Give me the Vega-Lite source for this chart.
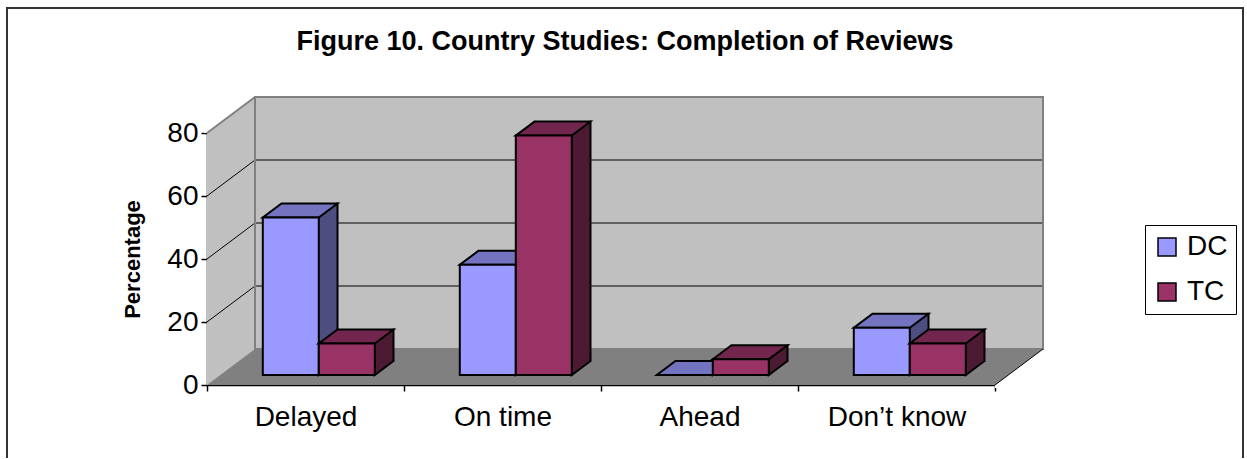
{
  "$schema": "https://vega.github.io/schema/vega-lite/v6.json",
  "width": 1236,
  "height": 450,
  "autosize": {"type": "none"},
  "padding": {"left": 7, "top": 8, "right": 4, "bottom": 1},
  "background": "white",
  "title": {
    "text": "Figure 10. Country Studies:  Completion of Reviews",
    "font": "Liberation Sans",
    "fontSize": 27,
    "fontWeight": "bold",
    "color": "black",
    "anchor": "middle",
    "frame": "group",
    "baseline": "alphabetic",
    "offset": -69
  },
  "config": {
    "font": "Liberation Sans",
    "view": {"stroke": "#333333", "strokeWidth": 2, "strokeDash": [1686, 1236, 450]}
  },
  "resolve": {"scale": {"x": "independent"}},
  "layer": [
    {
      "data": {"values": [{}]},
      "layer": [
        {
          "mark": {"type": "rect", "fill": "#C0C0C0", "x2Offset": 48, "yOffset": -36},
          "encoding": {
            "x": {"datum": 0, "type": "quantitative", "scale": {"domain": [0, 4], "range": [200, 988], "nice": false, "zero": false}, "axis": null},
            "x2": {"datum": 4},
            "y": {"datum": 80, "type": "quantitative", "scale": {"domain": [0, 80], "range": [377, 125], "nice": false}},
            "y2": {"datum": 0}
          }
        },
        {
          "mark": {"type": "rect", "fill": "#808080", "x2Offset": 48, "yOffset": -36},
          "encoding": {
            "x": {"datum": 0, "type": "quantitative", "axis": null},
            "x2": {"datum": 4},
            "y": {"datum": 0, "type": "quantitative"},
            "y2": {"datum": 0}
          }
        },
        {
          "mark": {"type": "point", "shape": "M0,0L0,-36L48,-36Z", "size": 4, "filled": true, "fill": "#C0C0C0", "opacity": 1, "strokeWidth": 0},
          "encoding": {
            "x": {"datum": 0, "type": "quantitative", "axis": null},
            "y": {"datum": 0, "type": "quantitative"}
          }
        },
        {
          "mark": {"type": "point", "shape": "M0,0L-3,0L-3,-39L48,-39L48,-36Z", "size": 4, "filled": true, "fill": "white", "opacity": 1, "strokeWidth": 0},
          "encoding": {
            "x": {"datum": 0, "type": "quantitative", "axis": null},
            "y": {"datum": 80, "type": "quantitative"}
          }
        },
        {
          "mark": {"type": "point", "shape": "M0,0L48,-36L51,-36L51,3L0,3Z", "size": 4, "filled": true, "fill": "white", "opacity": 1, "strokeWidth": 0},
          "encoding": {
            "x": {"datum": 4, "type": "quantitative", "axis": null},
            "y": {"datum": 0, "type": "quantitative"}
          }
        },
        {
          "data": {"values": [{"level": 20}, {"level": 40}, {"level": 60}]},
          "layer": [
            {
              "mark": {"type": "rule", "stroke": "black", "strokeWidth": 1, "xOffset": 48, "x2Offset": 48, "yOffset": -36},
              "encoding": {
                "x": {"datum": 0, "type": "quantitative", "axis": null},
                "x2": {"datum": 4},
                "y": {"field": "level", "type": "quantitative"}
              }
            },
            {
              "mark": {"type": "rule", "stroke": "black", "strokeWidth": 1, "x2Offset": 48, "y2Offset": -36},
              "encoding": {
                "x": {"datum": 0, "type": "quantitative", "axis": null},
                "x2": {"datum": 0},
                "y": {"field": "level", "type": "quantitative"},
                "y2": {"field": "level"}
              }
            }
          ]
        },
        {
          "mark": {"type": "rect", "fillOpacity": 0, "stroke": "#808080", "strokeWidth": 2, "xOffset": 48, "x2Offset": 48, "yOffset": -36, "y2Offset": -36},
          "encoding": {
            "x": {"datum": 0, "type": "quantitative", "axis": null},
            "x2": {"datum": 4},
            "y": {"datum": 80, "type": "quantitative"},
            "y2": {"datum": 0}
          }
        },
        {
          "mark": {"type": "rule", "stroke": "#808080", "strokeWidth": 2, "x2Offset": 48, "y2Offset": -36},
          "encoding": {
            "x": {"datum": 0, "type": "quantitative", "axis": null},
            "x2": {"datum": 0},
            "y": {"datum": 80, "type": "quantitative"},
            "y2": {"datum": 80}
          }
        },
        {
          "mark": {"type": "rule", "stroke": "black", "strokeWidth": 1, "x2Offset": 48, "y2Offset": -36},
          "encoding": {
            "x": {"datum": 4, "type": "quantitative", "axis": null},
            "x2": {"datum": 4},
            "y": {"datum": 0, "type": "quantitative"},
            "y2": {"datum": 0}
          }
        }
      ]
    },
    {
      "data": {
        "values": [
          {"status": "Delayed", "series": "DC", "pct": 50},
          {"status": "Delayed", "series": "TC", "pct": 10},
          {"status": "On time", "series": "DC", "pct": 35},
          {"status": "On time", "series": "TC", "pct": 76},
          {"status": "Ahead", "series": "DC", "pct": 0},
          {"status": "Ahead", "series": "TC", "pct": 5},
          {"status": "Don’t know", "series": "DC", "pct": 15},
          {"status": "Don’t know", "series": "TC", "pct": 10}
        ]
      },
      "layer": [
        {
          "transform": [{"filter": "datum.series === 'DC'"}],
          "layer": [
            {
              "mark": {"type": "bar", "width": 18.7, "fill": "#4D4D80", "strokeWidth": 0, "xOffset": 22.65, "yOffset": -24, "y2Offset": -24},
              "encoding": {
                "x": {
                  "field": "status", "type": "nominal", "sort": null, "title": null,
                  "scale": {"domain": ["Delayed", "On time", "Ahead", "Don’t know"], "range": [200, 988], "paddingInner": 0, "paddingOuter": 0},
                  "axis": {
                    "offset": -73, "tickBand": "extent", "domainColor": "black", "domainWidth": 1.5,
                    "tickColor": "black", "tickSize": 6, "tickWidth": 1.5,
                    "labelFont": "Liberation Sans", "labelFontSize": 28, "labelColor": "black",
                    "labelPadding": 12, "labelAngle": 0, "title": null, "grid": false
                  }
                },
                "y": {
                  "field": "pct", "type": "quantitative", "title": "Percentage",
                  "scale": {"domain": [0, 80], "range": [377, 125], "nice": false},
                  "axis": {
                    "offset": -200, "values": [0, 20, 40, 60, 80], "domainColor": "black", "domainWidth": 1.5,
                    "tickColor": "black", "tickSize": 6, "tickWidth": 1.5,
                    "labelFont": "Liberation Sans", "labelFontSize": 28, "labelColor": "black", "labelPadding": 3,
                    "grid": false, "title": "Percentage", "titleFont": "Liberation Sans", "titleFontSize": 22,
                    "titleFontWeight": "bold", "titleColor": "black", "titlePadding": 22
                  }
                },
                "y2": {"datum": 0}
              }
            },
            {
              "mark": {"type": "point", "shape": "M0,-14L0,0L18.7,-14", "size": 4, "filled": true, "fill": "#4D4D80", "stroke": "black", "strokeWidth": 2, "opacity": 1, "xOffset": 13.3, "yOffset": -10},
              "encoding": {
                "x": {"field": "status", "type": "nominal", "sort": null, "title": null},
                "y": {"datum": 0, "type": "quantitative"}
              }
            },
            {
              "mark": {"type": "rule", "stroke": "black", "strokeWidth": 2, "strokeCap": "square", "xOffset": 32, "yOffset": -24, "y2Offset": -24},
              "encoding": {
                "x": {"field": "status", "type": "nominal", "sort": null, "title": null},
                "y": {"field": "pct", "type": "quantitative", "title": "Percentage"},
                "y2": {"datum": 0}
              }
            },
            {
              "mark": {"type": "point", "shape": "M-28,0L28,0L46.7,-14L-9.3,-14Z", "size": 4, "filled": true, "fill": "#7373BF", "stroke": "black", "strokeWidth": 2, "opacity": 1, "xOffset": -14.7, "yOffset": -10},
              "encoding": {
                "x": {"field": "status", "type": "nominal", "sort": null, "title": null},
                "y": {"field": "pct", "type": "quantitative", "title": "Percentage"}
              }
            },
            {
              "mark": {"type": "bar", "width": 56, "stroke": "black", "strokeWidth": 2, "opacity": 1, "xOffset": -14.7, "yOffset": -10, "y2Offset": -10},
              "encoding": {
                "x": {"field": "status", "type": "nominal", "sort": null, "title": null},
                "y": {"field": "pct", "type": "quantitative", "title": "Percentage"},
                "y2": {"datum": 0},
                "color": {
                  "field": "series", "type": "nominal",
                  "scale": {"domain": ["DC", "TC"], "range": ["#9999FF", "#993366"]},
                  "legend": {
                    "orient": "none", "legendX": 1138, "legendY": 217, "title": null,
                    "symbolType": "square", "symbolSize": 324, "symbolStrokeColor": "black", "symbolStrokeWidth": 1.5,
                    "labelFont": "Liberation Sans", "labelFontSize": 28, "labelColor": "black", "labelOffset": 6,
                    "rowPadding": 17, "padding": 8, "strokeColor": "black", "fillColor": "white"
                  }
                }
              }
            }
          ]
        },
        {
          "transform": [{"filter": "datum.series === 'TC'"}],
          "layer": [
            {
              "mark": {"type": "bar", "width": 18.7, "fill": "#4D1A33", "strokeWidth": 0, "xOffset": 78.65, "yOffset": -24, "y2Offset": -24},
              "encoding": {
                "x": {"field": "status", "type": "nominal", "sort": null, "title": null},
                "y": {"field": "pct", "type": "quantitative", "title": "Percentage"},
                "y2": {"datum": 0}
              }
            },
            {
              "mark": {"type": "point", "shape": "M0,-14L0,0L18.7,-14", "size": 4, "filled": true, "fill": "#4D1A33", "stroke": "black", "strokeWidth": 2, "opacity": 1, "xOffset": 69.3, "yOffset": -10},
              "encoding": {
                "x": {"field": "status", "type": "nominal", "sort": null, "title": null},
                "y": {"datum": 0, "type": "quantitative"}
              }
            },
            {
              "mark": {"type": "rule", "stroke": "black", "strokeWidth": 2, "strokeCap": "square", "xOffset": 88, "yOffset": -24, "y2Offset": -24},
              "encoding": {
                "x": {"field": "status", "type": "nominal", "sort": null, "title": null},
                "y": {"field": "pct", "type": "quantitative", "title": "Percentage"},
                "y2": {"datum": 0}
              }
            },
            {
              "mark": {"type": "point", "shape": "M-28,0L28,0L46.7,-14L-9.3,-14Z", "size": 4, "filled": true, "fill": "#73264D", "stroke": "black", "strokeWidth": 2, "opacity": 1, "xOffset": 41.3, "yOffset": -10},
              "encoding": {
                "x": {"field": "status", "type": "nominal", "sort": null, "title": null},
                "y": {"field": "pct", "type": "quantitative", "title": "Percentage"}
              }
            },
            {
              "mark": {"type": "bar", "width": 56, "stroke": "black", "strokeWidth": 2, "opacity": 1, "xOffset": 41.3, "yOffset": -10, "y2Offset": -10},
              "encoding": {
                "x": {"field": "status", "type": "nominal", "sort": null, "title": null},
                "y": {"field": "pct", "type": "quantitative", "title": "Percentage"},
                "y2": {"datum": 0},
                "color": {
                  "field": "series", "type": "nominal",
                  "scale": {"domain": ["DC", "TC"], "range": ["#9999FF", "#993366"]},
                  "legend": {
                    "orient": "none", "legendX": 1138, "legendY": 217, "title": null,
                    "symbolType": "square", "symbolSize": 324, "symbolStrokeColor": "black", "symbolStrokeWidth": 1.5,
                    "labelFont": "Liberation Sans", "labelFontSize": 28, "labelColor": "black", "labelOffset": 6,
                    "rowPadding": 17, "padding": 8, "strokeColor": "black", "fillColor": "white"
                  }
                }
              }
            }
          ]
        }
      ]
    }
  ]
}
